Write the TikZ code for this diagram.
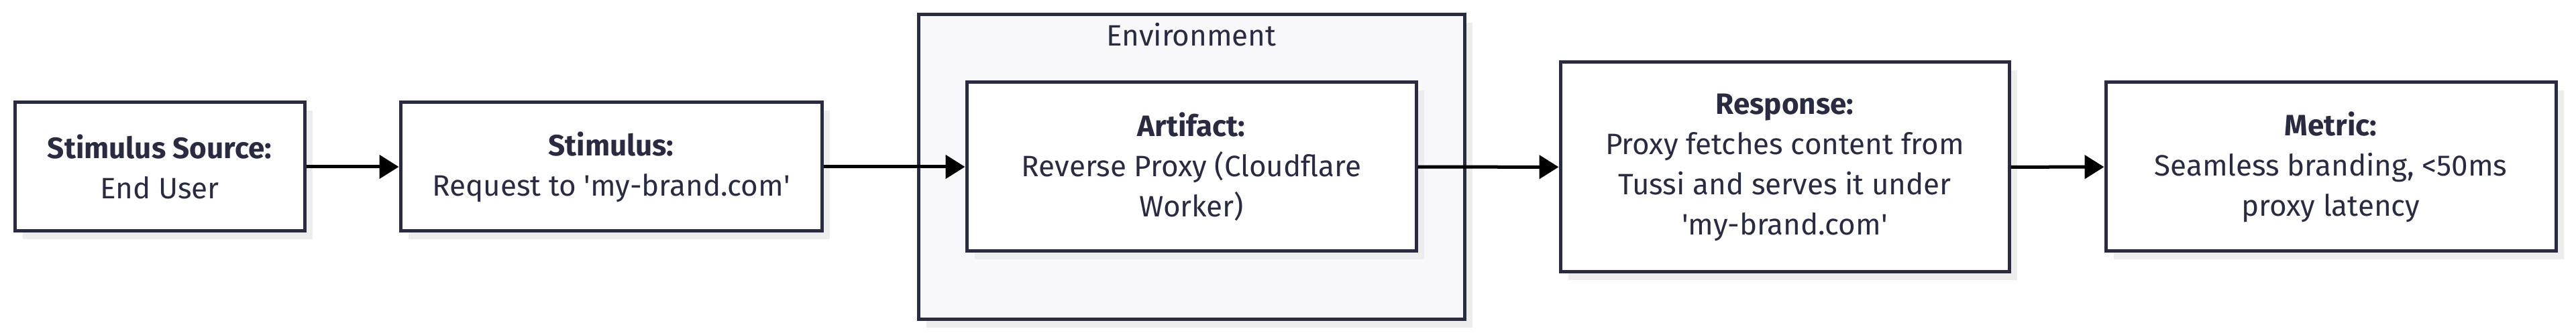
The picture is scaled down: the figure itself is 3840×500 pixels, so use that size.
\documentclass[tikz,border=0pt]{standalone}
\usepackage{fontspec}
\setmainfont{Fira Sans}
\usepackage{xcolor}
\usetikzlibrary{shapes,arrows,positioning,calc,shadows,arrows.meta}
\definecolor{boxline}{HTML}{2A2A40}
\definecolor{envfill}{HTML}{F8F8FA}
\definecolor{shade}{HTML}{EDEDED}
\newcommand{\q}{\textquotesingle}

\begin{document}
\begin{tikzpicture}[x=0.25pt,y=-0.25pt,
        box/.style={draw=boxline, line width=1.25pt, fill=white, align=center, text=boxline,
            font=\fontsize{11}{15}\selectfont, inner sep=0pt,
            drop shadow={shadow xshift=3pt, shadow yshift=-3pt, fill=shade, opacity=1}},
        flow/.style={line width=1.25pt, -{Triangle[length=7.25pt,width=8.75pt]}}]
        \useasboundingbox (0,0) rectangle (3840,500);
        \node[box, fill=envfill, minimum width=203.5pt, minimum height=113.75pt] (env) at (1776,249.5) {};
        \node[text=boxline, font=\fontsize{11}{15}\selectfont] (envlabel) at (1776,52) {Environment};
        \node[box, minimum width=108pt, minimum height=48pt] (source) at (238,249) {\textbf{Stimulus Source:}\\End User};
        \node[box, minimum width=157pt, minimum height=48pt] (stimulus) at (911,249) {\textbf{Stimulus:}\\Request to \q my-brand.com\q};
        \node[box, minimum width=167.5pt, minimum height=63pt] (artifact) at (1776,249) {\textbf{Artifact:}\\Reverse Proxy (Cloudflare\\Worker)};
        \node[box, minimum width=167.25pt, minimum height=78.25pt] (response) at (2660.5,249.5) {\textbf{Response:}\\Proxy fetches content from\\Tussi and serves it under\\\q my-brand.com\q};
        \node[box, minimum width=167.75pt, minimum height=63pt] (metric) at (3474.5,249) {\textbf{Metric:}\\Seamless branding, <50ms\\proxy latency};
        \draw[flow] (source) -- (stimulus);
        \draw[flow] (stimulus) -- (artifact);
        \draw[flow] (artifact) -- (response);
        \draw[flow] (response) -- (metric);
    \end{tikzpicture}
\end{document}
